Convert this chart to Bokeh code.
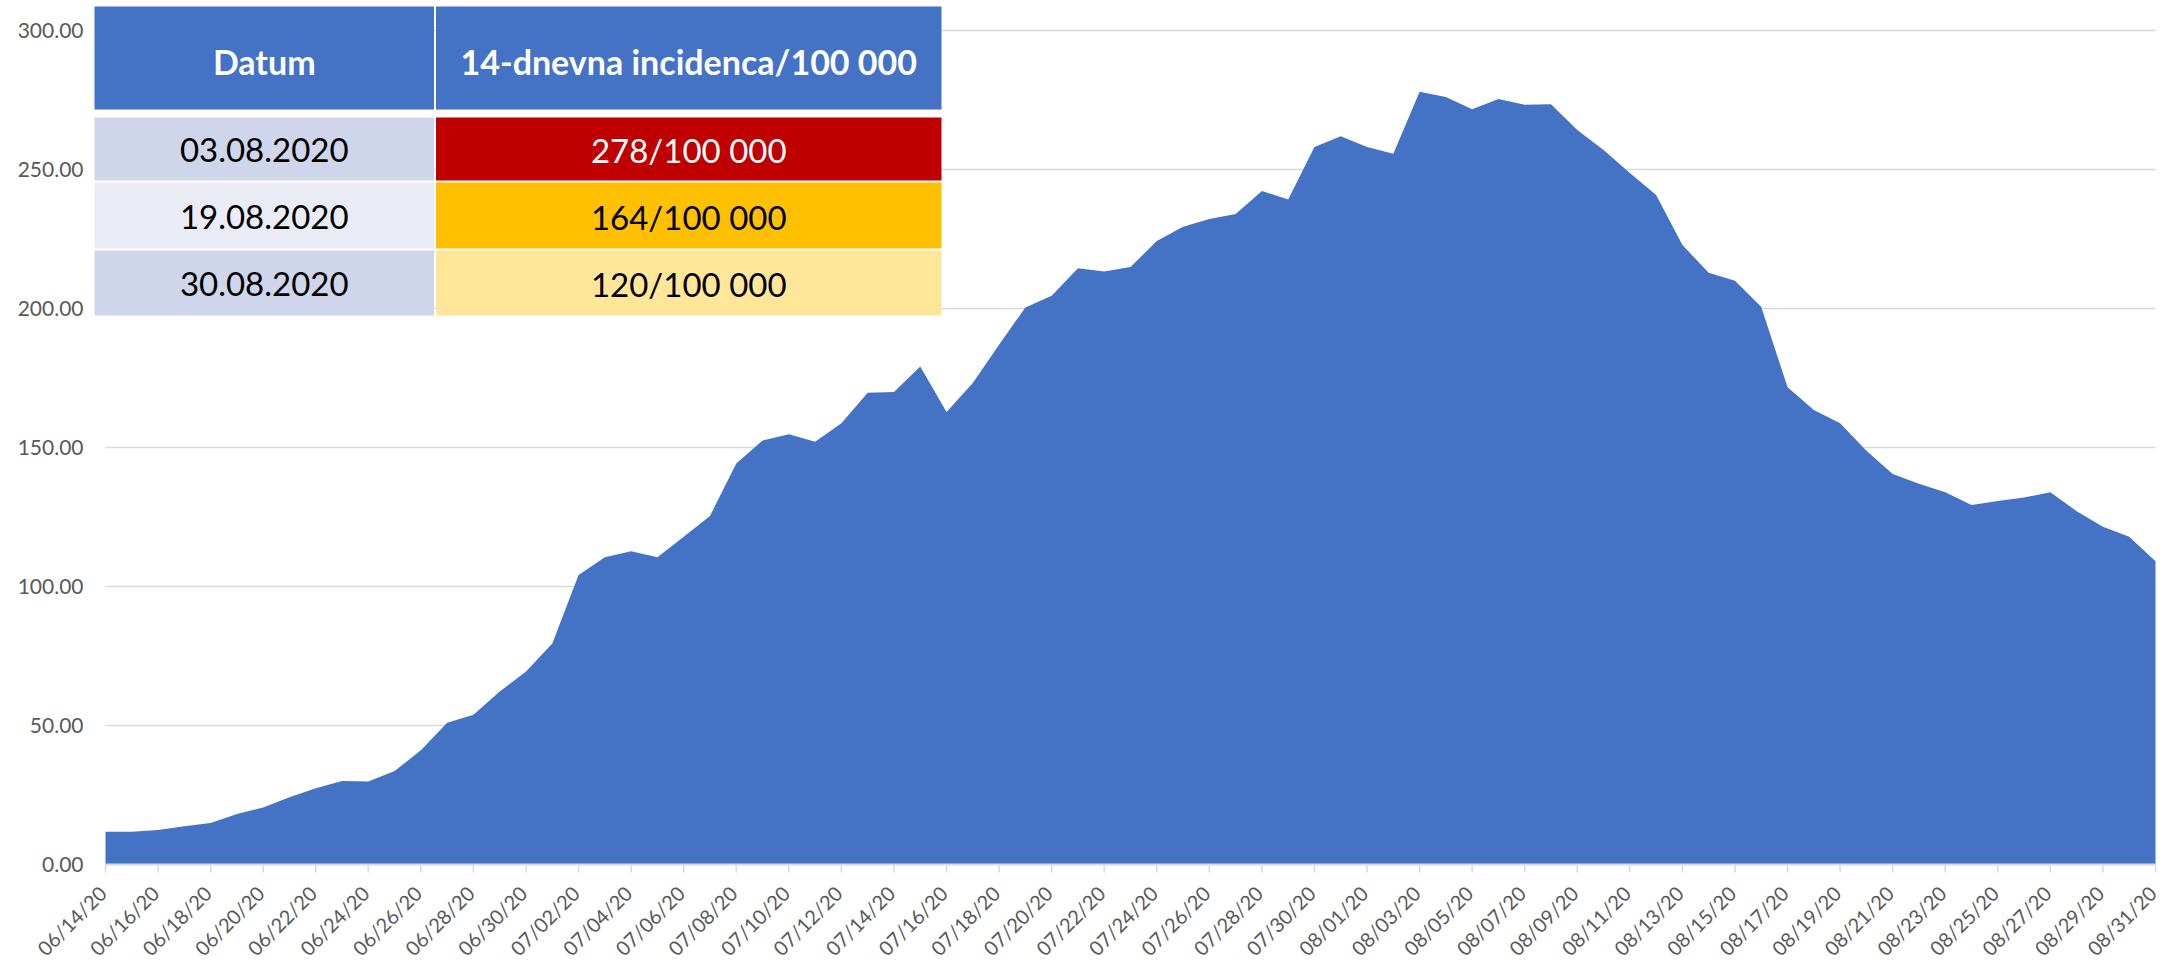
import math
import pandas as pd
from bokeh.plotting import figure
from bokeh.models import Range1d
from bokeh.core.properties import value
from bokeh.embed import file_html
from bokeh.resources import INLINE

# ---------------- data ----------------
dates = [d.strftime("%m/%d/%y") for d in pd.date_range("2020-06-14", "2020-08-31", freq="D")]
incidence = [
    11.8, 11.8, 12.4, 13.8, 14.9, 18.2, 20.5, 24.2, 27.4, 30.0, 29.9, 33.6, 41.1, 51.0, 53.9, 62.2, 69.4,
    79.5, 104.1, 110.5, 112.7, 110.5, 117.9, 125.4, 144.2, 152.5, 154.8, 152.1, 158.7, 169.7, 170.0, 179.1,
    162.8, 173.2, 187.0, 200.4, 204.6, 214.5, 213.3, 214.9, 224.3, 229.4, 232.2, 234.0, 242.3, 239.2, 258.1,
    262.0,
    258.1, 255.7, 278.0, 276.1, 271.7, 275.4, 273.3, 273.5, 264.2, 257.0, 248.7, 240.8, 222.8, 212.9, 210.0,
    200.5, 171.7, 163.5, 158.7, 148.8, 140.5, 137.0, 133.9, 129.3, 130.8, 132.0, 133.9, 127.1, 121.5, 117.9,
    109.1,
]
y_ticks = [0, 50, 100, 150, 200, 250, 300]

table_header = ["Datum", "14-dnevna incidenca/100 000"]
table_dates = ["03.08.2020", "19.08.2020", "30.08.2020"]
table_values = ["278/100 000", "164/100 000", "120/100 000"]
date_cell_colors = ["#CFD5EA", "#E9EBF5", "#CFD5EA"]
value_cell_colors = ["#C00000", "#FFC000", "#FFE699"]
value_text_colors = ["white", "black", "black"]

# ---------------- geometry (canvas pixels) ----------------
W, H = 2161, 963
X0_PX, XN_PX = 105, 2155      # x of first / last day
Y0_PX, Y300_PX = 864, 30      # y of value 0 / 300
n = len(dates)
sx = (XN_PX - X0_PX) / (n - 1)
sy = (Y0_PX - Y300_PX) / 300.0


def dx(px):
    return (px - X0_PX) / sx


def dy(py):
    return (Y0_PX - py) / sy


days = list(range(n))
tick_days = list(range(0, n, 2))
AX_COLOR = "#D9D9D9"
LABEL_COLOR = "#595959"

# the whole canvas is the plotting frame; axes are drawn as glyphs
p = figure(width=W, height=H, output_backend="svg", toolbar_location=None,
           x_axis_location=None, y_axis_location=None,
           x_range=Range1d(dx(0), dx(W)), y_range=Range1d(dy(H), dy(0)),
           min_border=0)
p.outline_line_color = None
p.background_fill_color = "white"
p.border_fill_color = "white"
p.xgrid.visible = False
p.ygrid.visible = False

# gridlines (only across the data span)
grid_y = [t for t in y_ticks if t > 0]
p.segment(x0=[days[0]] * len(grid_y), x1=[days[-1]] * len(grid_y), y0=grid_y, y1=grid_y,
          line_color=AX_COLOR, line_width=1.5)

# area
p.varea(x=days, y1=[0] * n, y2=incidence, fill_color="#4472C4")

# x axis line + ticks
p.segment(x0=[days[0]], x1=[days[-1]], y0=[0], y1=[0], line_color=AX_COLOR, line_width=2)
p.segment(x0=tick_days, x1=tick_days, y0=[0] * len(tick_days), y1=[dy(Y0_PX + 8)] * len(tick_days),
          line_color=AX_COLOR, line_width=1.5)

# y tick labels
p.text(x=[dx(83)] * len(y_ticks), y=y_ticks, text=["%.2f" % t for t in y_ticks],
       text_font=value("Lato"), text_font_size="21px", text_color=LABEL_COLOR,
       text_align="right", text_baseline="middle")

# x tick labels, rotated 45 degrees
p.text(x=tick_days, y=[dy(889)] * len(tick_days), text=[dates[i] for i in tick_days],
       angle=math.pi / 4, x_offset=-3,
       text_font=value("Lato"), text_font_size="20px", text_color=LABEL_COLOR,
       text_align="right", text_baseline="middle")

# ---------------- table overlay ----------------
col_l = [94, 435.5]
col_r = [433.5, 941]
head_t, head_b = 6, 109
row_t = [117, 182, 250]
row_b = [180, 248, 315]

# header
p.quad(left=[dx(c) for c in col_l], right=[dx(c) for c in col_r],
       top=[dy(head_t)] * 2, bottom=[dy(head_b)] * 2,
       fill_color="#4472C4", line_color=None)
p.text(x=[dx((l + r) / 2) for l, r in zip(col_l, col_r)], y=[dy(61)] * 2, text=table_header,
       text_font=value("Lato"), text_font_style="bold", text_font_size="34px",
       text_color="white", text_align="center", text_baseline="middle")

# rows
p.quad(left=[dx(col_l[0])] * 3, right=[dx(col_r[0])] * 3,
       top=[dy(t) for t in row_t], bottom=[dy(b) for b in row_b],
       fill_color=date_cell_colors, line_color=None)
p.quad(left=[dx(col_l[1])] * 3, right=[dx(col_r[1])] * 3,
       top=[dy(t) for t in row_t], bottom=[dy(b) for b in row_b],
       fill_color=value_cell_colors, line_color=None)
row_c = [dy((t + b) / 2 + 1) for t, b in zip(row_t, row_b)]
p.text(x=[dx((col_l[0] + col_r[0]) / 2)] * 3, y=row_c, text=table_dates,
       text_font=value("Lato"), text_font_size="33px", text_color="black",
       text_align="center", text_baseline="middle")
p.text(x=[dx((col_l[1] + col_r[1]) / 2)] * 3, y=row_c, text=table_values,
       text_font=value("Lato"), text_font_size="33px", text_color=value_text_colors,
       text_align="center", text_baseline="middle")

open("out.html", "w").write(file_html(p, INLINE))
